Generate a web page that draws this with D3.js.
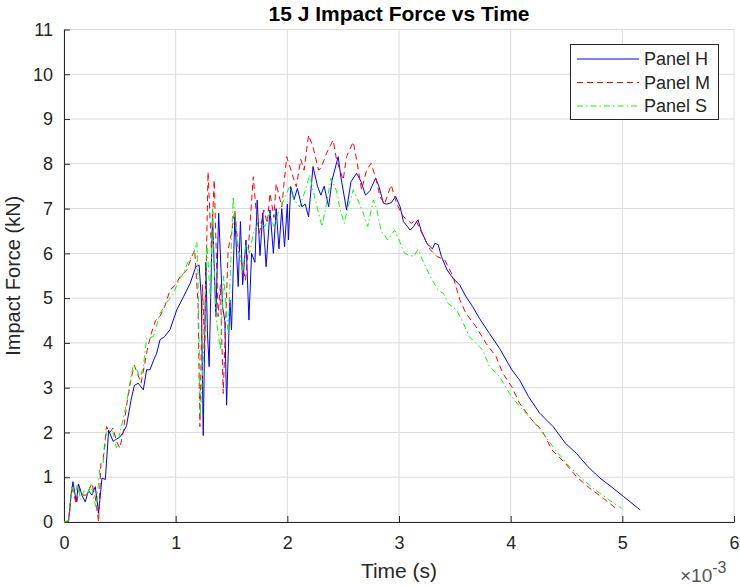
<!DOCTYPE html>
<html>
<head>
<meta charset="utf-8">
<script src="https://cdn.jsdelivr.net/npm/d3@7/dist/d3.min.js"></script>
<style>
  body { margin: 0; background: #fff; }
  svg { font-family: "Liberation Sans", Arial, sans-serif; }
</style>
</head>
<body>
<svg id="chart" width="740" height="586"></svg>
<script>
// time in ms (axis shows x10^-3 s), force in kN
const timeH = [0, 0.04, 0.06, 0.08, 0.11, 0.13, 0.16, 0.19, 0.22, 0.25, 0.28, 0.31, 0.34, 0.37, 0.4, 0.44, 0.47, 0.5, 0.53, 0.56, 0.6, 0.63, 0.665, 0.71, 0.74, 0.77, 0.8, 0.83, 0.86, 0.9, 0.95, 1.01, 1.07, 1.13, 1.18, 1.21, 1.23, 1.247, 1.27, 1.285, 1.3, 1.33, 1.36, 1.385, 1.42, 1.44, 1.456, 1.486, 1.5, 1.53, 1.56, 1.58, 1.6, 1.63, 1.656, 1.68, 1.71, 1.73, 1.755, 1.78, 1.81, 1.845, 1.875, 1.9, 1.925, 1.95, 1.975, 2.0, 2.01, 2.03, 2.06, 2.09, 2.13, 2.16, 2.19, 2.23, 2.27, 2.3, 2.33, 2.37, 2.4, 2.455, 2.48, 2.53, 2.57, 2.62, 2.66, 2.7, 2.74, 2.79, 2.82, 2.86, 2.89, 2.93, 2.97, 3.01, 3.04, 3.1, 3.13, 3.17, 3.2, 3.25, 3.3, 3.32, 3.35, 3.38, 3.43, 3.485, 3.545, 3.6, 3.66, 3.72, 3.81, 3.9, 4.01, 4.08, 4.16, 4.26, 4.38, 4.49, 4.59, 4.69, 4.8, 4.9, 5.01, 5.16]
const forceH = [0, 0, 0.5, 0.9, 0.45, 0.85, 0.6, 0.45, 0.7, 0.6, 0.79, 0.2, 0.98, 0.95, 2.05, 1.8, 1.85, 1.9, 2.0, 2.15, 2.72, 3.05, 3.1, 2.95, 3.4, 3.4, 3.6, 3.77, 4.07, 4.14, 4.3, 4.74, 5.03, 5.33, 5.7, 5.74, 5.0, 1.93, 5.8, 4.2, 3.47, 6.86, 4.59, 6.9, 4.81, 4.5, 2.61, 4.96, 4.29, 6.82, 5.26, 6.71, 5.3, 6.3, 4.51, 6.0, 5.8, 7.19, 5.95, 6.9, 5.7, 6.97, 6.0, 7.0, 6.1, 7.0, 6.15, 7.1, 6.3, 7.49, 7.2, 7.45, 7.04, 7.1, 6.82, 7.94, 7.5, 7.3, 7.5, 7.04, 7.63, 8.16, 7.7, 6.97, 7.6, 7.79, 7.6, 7.3, 7.4, 7.68, 7.5, 7.12, 7.1, 7.13, 7.27, 7.04, 6.71, 6.52, 6.6, 6.75, 6.5, 6.22, 6.1, 6.22, 6.2, 5.93, 5.63, 5.44, 5.29, 5.03, 4.81, 4.55, 4.21, 3.88, 3.4, 3.17, 2.8, 2.43, 2.13, 1.76, 1.53, 1.24, 0.98, 0.79, 0.57, 0.27]

const timeM = [0, 0.04, 0.07, 0.11, 0.14, 0.17, 0.2, 0.25, 0.28, 0.31, 0.33, 0.35, 0.38, 0.41, 0.44, 0.47, 0.5, 0.53, 0.56, 0.6, 0.63, 0.66, 0.69, 0.72, 0.75, 0.78, 0.82, 0.86, 0.9, 0.95, 1.0, 1.04, 1.1, 1.14, 1.17, 1.2, 1.217, 1.24, 1.26, 1.29, 1.32, 1.345, 1.38, 1.4, 1.426, 1.47, 1.5, 1.53, 1.56, 1.6, 1.625, 1.65, 1.695, 1.725, 1.75, 1.79, 1.82, 1.845, 1.88, 1.9, 1.95, 1.994, 2.04, 2.08, 2.12, 2.15, 2.19, 2.23, 2.28, 2.3, 2.35, 2.41, 2.44, 2.5, 2.53, 2.59, 2.62, 2.665, 2.71, 2.75, 2.79, 2.83, 2.87, 2.93, 2.98, 3.04, 3.11, 3.15, 3.22, 3.28, 3.34, 3.41, 3.485, 3.545, 3.6, 3.69, 3.78, 3.87, 3.93, 4.01, 4.08, 4.19, 4.28, 4.37, 4.49, 4.59, 4.71, 4.83, 4.96]
const forceM = [0, 0, 0.79, 0.4, 0.75, 0.6, 0.6, 0.86, 0.55, 0.0, 1.3, 1.38, 2.13, 2.0, 2.1, 1.8, 1.65, 2.0, 2.6, 3.2, 3.5, 3.3, 3.1, 3.5, 3.9, 4.2, 4.5, 4.6, 4.8, 5.18, 5.3, 5.48, 5.63, 5.9, 6.08, 4.9, 2.13, 5.3, 3.84, 7.82, 6.08, 7.64, 4.59, 5.3, 2.87, 6.08, 6.45, 6.97, 6.08, 5.7, 5.4, 6.08, 7.71, 6.8, 6.45, 6.97, 6.67, 7.34, 6.8, 7.56, 7.04, 8.16, 7.8, 7.49, 8.1, 7.86, 8.64, 8.38, 7.86, 7.9, 8.23, 8.53, 8.1, 7.64, 8.16, 8.49, 8.1, 7.42, 7.86, 8.01, 7.7, 7.27, 7.1, 7.53, 7.1, 6.82, 6.67, 6.75, 6.37, 6.08, 5.93, 5.85, 5.48, 4.96, 4.66, 4.36, 3.99, 3.69, 3.32, 3.02, 2.65, 2.28, 2.05, 1.61, 1.31, 1.01, 0.75, 0.53, 0.27]

const timeS = [0, 0.05, 0.07, 0.1, 0.12, 0.15, 0.18, 0.21, 0.24, 0.27, 0.29, 0.32, 0.35, 0.38, 0.41, 0.44, 0.47, 0.5, 0.53, 0.56, 0.59, 0.62, 0.65, 0.68, 0.71, 0.74, 0.8, 0.86, 0.92, 0.98, 1.03, 1.07, 1.11, 1.16, 1.19, 1.2, 1.22, 1.25, 1.28, 1.31, 1.33, 1.36, 1.4, 1.43, 1.47, 1.515, 1.55, 1.6, 1.63, 1.66, 1.7, 1.75, 1.8, 1.84, 1.88, 1.93, 1.97, 2.02, 2.06, 2.11, 2.16, 2.2, 2.24, 2.31, 2.35, 2.39, 2.44, 2.47, 2.51, 2.54, 2.59, 2.63, 2.68, 2.72, 2.77, 2.8, 2.84, 2.9, 2.96, 3.0, 3.05, 3.13, 3.17, 3.22, 3.28, 3.35, 3.4, 3.44, 3.515, 3.575, 3.63, 3.75, 3.81, 3.9, 3.99, 4.08, 4.19, 4.29, 4.4, 4.5, 4.62, 4.74, 4.86, 4.99]
const forceS = [0, 0.05, 0.8, 0.6, 0.85, 0.5, 0.7, 0.6, 0.85, 0.5, 0.3, 1.2, 1.3, 2.0, 2.1, 2.0, 1.65, 2.0, 2.3, 2.65, 3.1, 3.5, 3.43, 3.2, 3.47, 4.1, 4.14, 4.66, 4.9, 5.1, 5.4, 5.56, 5.8, 6.0, 6.25, 5.5, 2.35, 3.8, 6.2, 5.0, 7.0, 4.6, 3.84, 5.5, 4.2, 7.27, 6.3, 5.6, 6.2, 6.0, 6.5, 6.7, 6.6, 6.9, 6.6, 7.0, 7.2, 7.49, 7.2, 7.04, 7.4, 7.75, 7.3, 6.6, 7.1, 7.68, 7.4, 7.0, 6.67, 7.0, 7.42, 7.2, 6.9, 6.6, 7.19, 7.0, 6.5, 6.3, 6.52, 6.3, 6.0, 5.93, 6.08, 5.8, 5.48, 5.18, 5.1, 4.88, 4.74, 4.44, 4.14, 3.84, 3.47, 3.25, 2.87, 2.58, 2.28, 1.98, 1.61, 1.31, 1.01, 0.75, 0.53, 0.31]

const xTicks = [0, 1, 2, 3, 4, 5, 6]
const yTicks = [0, 1, 2, 3, 4, 5, 6, 7, 8, 9, 10, 11]
const seriesNames = ["Panel H", "Panel M", "Panel S"]
const seriesColors = ["#0000ff", "#ff0000", "#00ff00"]
const seriesDash = [null, "6,4", "6,3,1.5,3"]

const svg = d3.select("#chart")
const plotL = 64, plotR = 734, plotT = 29.5, plotB = 522
const axisColor = "#262626"

const x = d3.scaleLinear().domain([0, 6]).range([plotL, plotR])
const y = d3.scaleLinear().domain([0, 11]).range([plotB, plotT])

// grid
svg.append("g").selectAll("line").data(xTicks).join("line")
    .attr("x1", d => x(d)).attr("x2", d => x(d))
    .attr("y1", plotT).attr("y2", plotB)
    .attr("stroke", "#dcdcdc").attr("stroke-width", 1)
svg.append("g").selectAll("line").data(yTicks).join("line")
    .attr("x1", plotL).attr("x2", plotR)
    .attr("y1", d => y(d)).attr("y2", d => y(d))
    .attr("stroke", "#dcdcdc").attr("stroke-width", 1)

// axes
const xAxis = svg.append("g").attr("transform", `translate(0,${plotB})`)
    .call(d3.axisBottom(x).tickValues(xTicks).tickFormat(d3.format("d")).tickSizeInner(-6).tickSizeOuter(0).tickPadding(14))
const yAxis = svg.append("g").attr("transform", `translate(${plotL},0)`)
    .call(d3.axisLeft(y).tickValues(yTicks).tickFormat(d3.format("d")).tickSizeInner(-6).tickSizeOuter(0).tickPadding(11))
for (const a of [xAxis, yAxis]) {
    a.select(".domain").attr("stroke", axisColor)
    a.selectAll(".tick line").attr("stroke", axisColor)
    a.selectAll(".tick text").attr("fill", axisColor)
        .style("font-size", "18px").style("font-family", "Liberation Sans, Arial, sans-serif")
}

// lines
const series = [
    timeH.map((t, i) => [t, forceH[i]]),
    timeM.map((t, i) => [t, forceM[i]]),
    timeS.map((t, i) => [t, forceS[i]])
]
const line = d3.line().x(d => x(d[0])).y(d => y(d[1]))
svg.append("g").selectAll("path").data(series).join("path")
    .attr("d", line)
    .attr("fill", "none")
    .attr("stroke", (d, i) => seriesColors[i])
    .attr("stroke-width", 1)
    .attr("stroke-dasharray", (d, i) => seriesDash[i])
    .attr("stroke-linejoin", "round")

// title & labels
svg.append("text").attr("x", 399).attr("y", 21).attr("text-anchor", "middle")
    .style("font-size", "21px").style("font-weight", "bold").attr("fill", "#000")
    .text("15 J Impact Force vs Time")
svg.append("text").attr("x", 399).attr("y", 578).attr("text-anchor", "middle")
    .style("font-size", "21px").attr("fill", axisColor).text("Time (s)")
svg.append("text").attr("transform", `translate(20,${(plotT + plotB) / 2}) rotate(-90)`)
    .attr("text-anchor", "middle").style("font-size", "20px").attr("fill", axisColor)
    .text("Impact Force (kN)")
const expo = svg.append("text").attr("x", 680).attr("y", 582).style("font-size", "19px").attr("fill", "#555")
expo.append("tspan").text("×10")
expo.append("tspan").attr("dy", -9).style("font-size", "16px").text("-3")

// legend
const lg = svg.append("g")
lg.append("rect").attr("x", 570.5).attr("y", 44.5).attr("width", 148).attr("height", 75)
    .attr("fill", "#fff").attr("stroke", axisColor).attr("stroke-width", 1)
seriesNames.forEach((name, i) => {
    const yy = 59 + i * 23.5
    lg.append("line").attr("x1", 577).attr("x2", 639).attr("y1", yy).attr("y2", yy)
        .attr("stroke", seriesColors[i]).attr("stroke-width", 1)
        .attr("stroke-dasharray", seriesDash[i])
    lg.append("text").attr("x", 644).attr("y", yy + 6).style("font-size", "18px")
        .attr("fill", axisColor).text(name)
})
</script>
</body>
</html>
